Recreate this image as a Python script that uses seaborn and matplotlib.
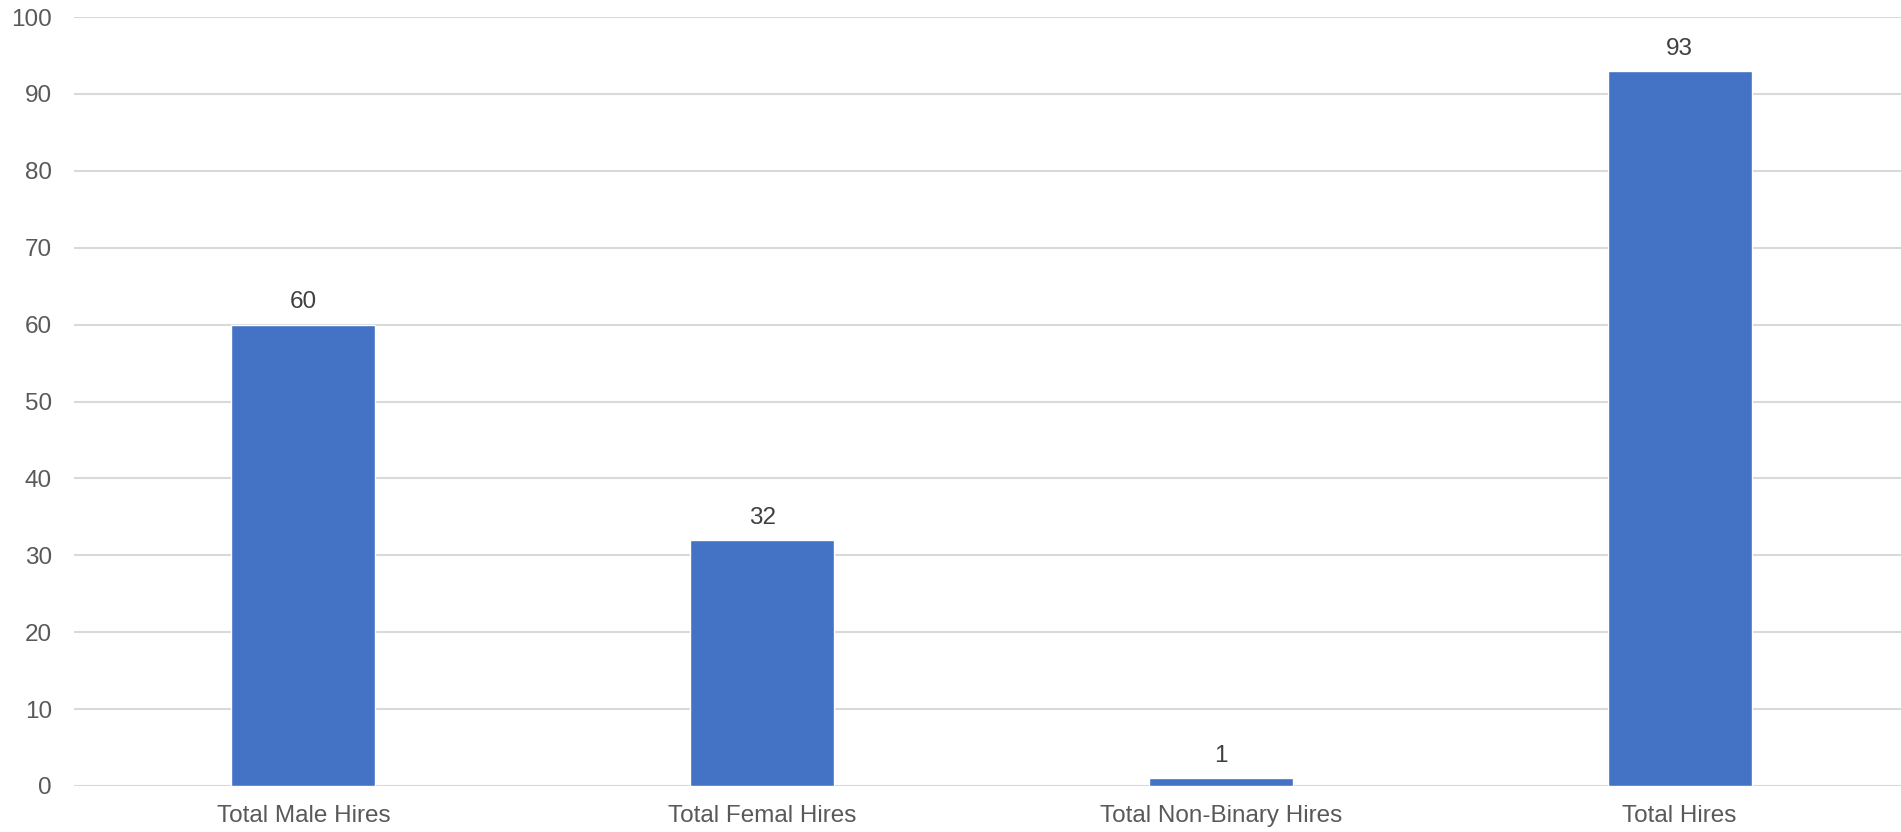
import matplotlib
matplotlib.use("Agg")
import matplotlib.pyplot as plt
import seaborn as sns
import pandas as pd

categories = ["Total Male Hires", "Total Femal Hires", "Total Non-Binary Hires", "Total Hires"]
values = [60, 32, 1, 93]
yticks = [0, 10, 20, 30, 40, 50, 60, 70, 80, 90, 100]

sns.set_theme(style="white")
plt.rcParams['font.family'] = ['Liberation Sans', 'DejaVu Sans']

df = pd.DataFrame({"cat": categories, "val": values})

fig = plt.figure(figsize=(19.01, 8.32), dpi=100)
ax = fig.add_axes([74/1901, 1 - 786/832, (1909 - 74)/1901, (786 - 17)/832])

sns.barplot(data=df, x="cat", y="val", color="#4472C4", width=0.314, ax=ax,
            saturation=1, zorder=3)

ax.set_ylim(0, 100)
ax.set_yticks(yticks)
ax.set_xlim(-0.5, 3.5)
ax.yaxis.grid(True, color="#d9d9d9", linewidth=1.5, zorder=0)
ax.xaxis.grid(False)
for s in ax.spines.values():
    s.set_visible(False)
ax.set_xlabel("")
ax.set_ylabel("")
ax.tick_params(axis="y", length=0, pad=16, labelsize=17.5, labelcolor="#595959")
ax.tick_params(axis="x", length=0, pad=14, labelsize=17.5, labelcolor="#595959")

for c in ax.containers:
    ax.bar_label(c, labels=[str(v) for v in values], padding=8, fontsize=17.5, color="#404040")

fig.savefig("out.png", dpi=100)
